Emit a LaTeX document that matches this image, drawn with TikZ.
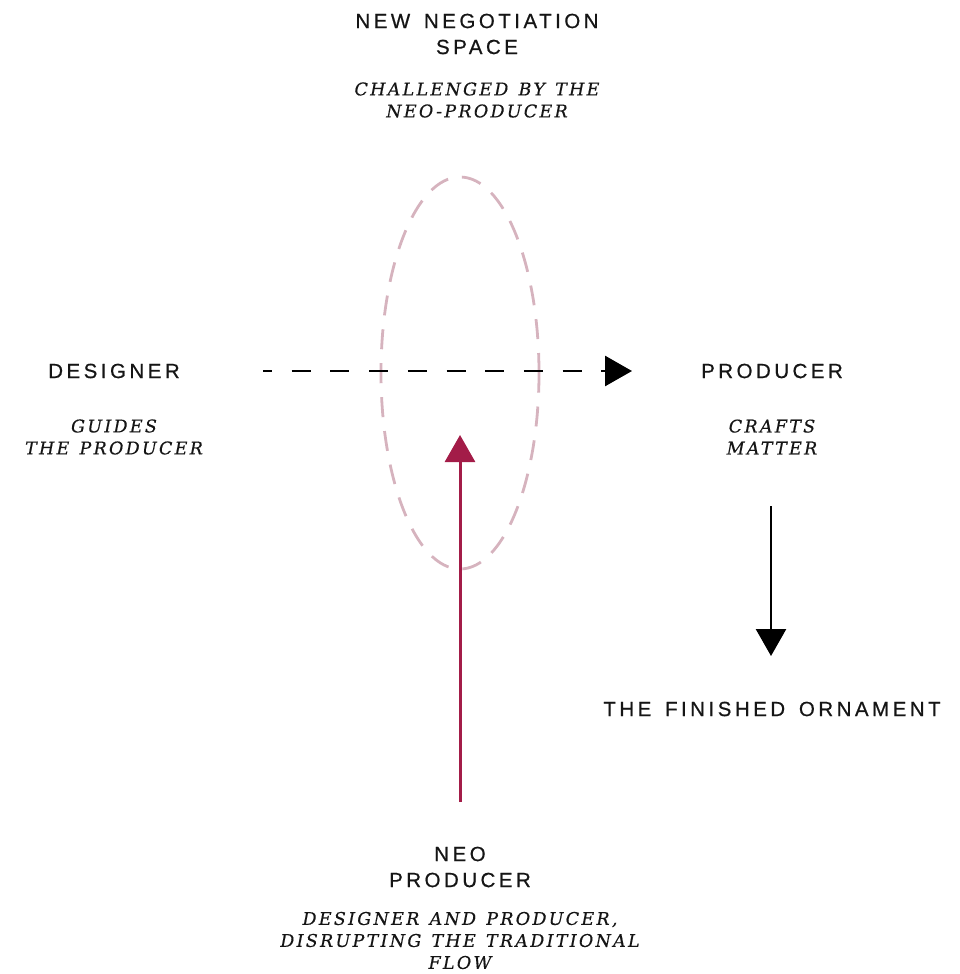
\documentclass[tikz,border=0pt]{standalone}
\usepackage{fontspec}
\usetikzlibrary{arrows.meta,shapes.geometric}
\newfontfamily\labfont[LetterSpace=17,WordSpace=1.5,FakeBold=0.6]{Liberation Sans}
\newfontfamily\subfont[LetterSpace=13,WordSpace=1.3,FakeBold=0.4]{DejaVu Serif}
\definecolor{neored}{HTML}{A31C48}
\definecolor{spacepink}{HTML}{D6B3BE}
\definecolor{ink}{HTML}{151515}
\tikzset{
  lab/.style={align=center, inner sep=0pt, text=ink, font=\labfont\fontsize{20.5}{26}\selectfont},
  sub/.style={align=center, inner sep=0pt, text=ink, font=\subfont\itshape\fontsize{17.5}{22}\selectfont},
  flowarrow/.style={line width=2.6pt, -{Triangle[width=30pt,length=27pt]}},
}
\begin{document}
\begin{tikzpicture}[x=1pt,y=-1pt]
\useasboundingbox (0,0) rectangle (960,974);
% ellipse (new negotiation space)
\node (space) [draw=spacepink, ellipse, line width=2.8pt, dash pattern=on 20pt off 14pt,
  minimum width=158pt, minimum height=392pt, inner sep=0pt] at (460,373) {};
% texts
\node (nns) [lab] at (477,34) {NEW NEGOTIATION\\SPACE};
\node (nnssub) [sub] at (477,100) {CHALLENGED BY THE\\NEO-PRODUCER};
\node (designer) [lab] at (114,371) {DESIGNER};
\node (designersub) [sub] at (114,437) {GUIDES\\THE PRODUCER};
\node (producer) [lab] at (772,371) {PRODUCER};
\node (producersub) [sub] at (772,437) {CRAFTS\\MATTER};
\node (ornament) [lab] at (772,709) {THE FINISHED ORNAMENT};
\node (neo) [lab] at (460,867) {NEO\\PRODUCER};
\node (neosub) [sub] at (460,940.5) {DESIGNER AND PRODUCER,\\DISRUPTING THE TRADITIONAL\\FLOW};
% connector end points
\coordinate (dStart) at (263,371);
\coordinate (dEnd) at (632,371);
\coordinate (pStart) at (771,506);
\coordinate (pEnd) at (771,656);
\coordinate (nStart) at (460,802);
\coordinate (nEnd) at (460,435);
% connectors
\draw[flowarrow, line width=2.8pt, dash pattern=on 19pt off 19.7pt, dash phase=10pt] (dStart) -- (dEnd);
\draw[flowarrow] (pStart) -- (pEnd);
\draw[flowarrow, draw=neored, fill=neored, line width=3pt] (nStart) -- (nEnd);
\end{tikzpicture}
\end{document}
